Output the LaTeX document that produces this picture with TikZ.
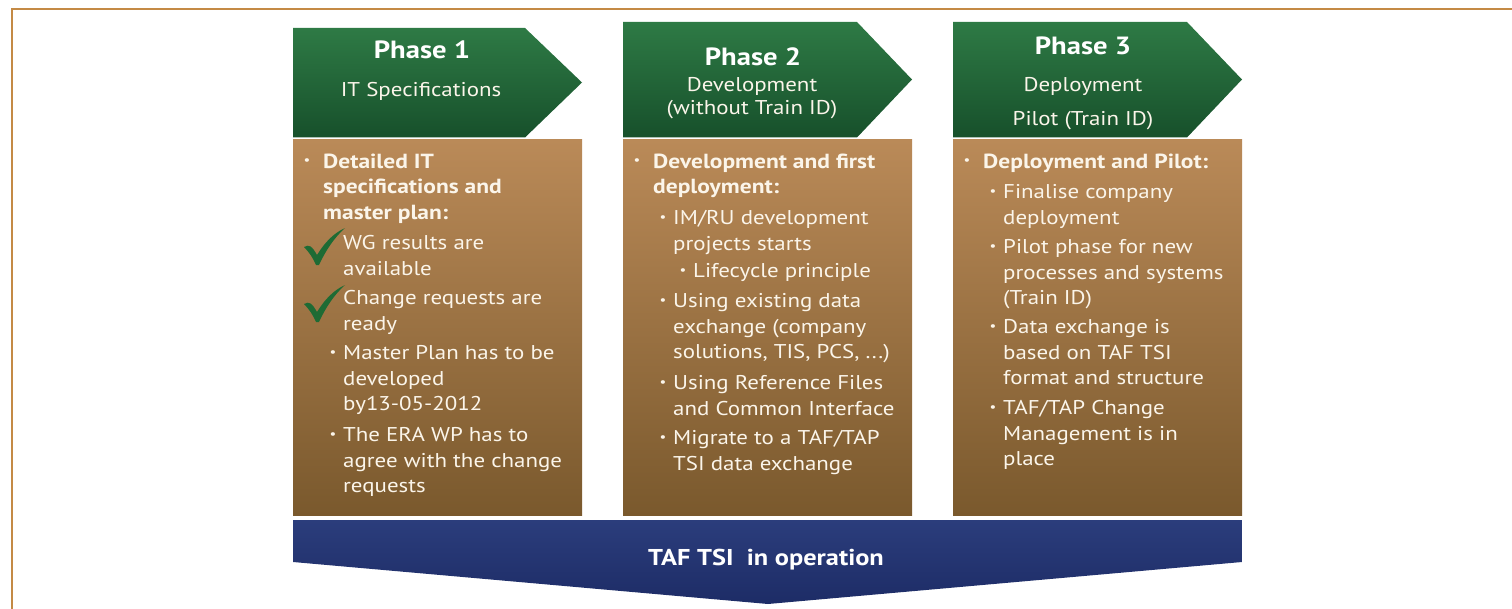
\documentclass[tikz,border=0pt]{standalone}
\usepackage{fontspec}
\setmainfont{PT Sans}[FakeStretch=1.15]
\usepackage{tikz}
\definecolor{PhFrame}{HTML}{C48A45}
\definecolor{PhGreenTop}{HTML}{2E7A45}
\definecolor{PhGreenBot}{HTML}{17502B}
\definecolor{PhBrownTop}{HTML}{BA8A58}
\definecolor{PhBrownBot}{HTML}{7A592D}
\definecolor{PhBlueTop}{HTML}{2B3D7C}
\definecolor{PhBlueBot}{HTML}{1D2C66}
\definecolor{PhTick}{HTML}{1E6B34}
\definecolor{PhText}{HTML}{FBF5EA}

\tikzset{
  head/.style={top color=PhGreenTop,bottom color=PhGreenBot},
  card/.style={top color=PhBrownTop,bottom color=PhBrownBot},
  band/.style={top color=PhBlueTop,bottom color=PhBlueBot},
  ttl/.style={inner sep=0pt,text=white,font=\fontsize{25}{30}\selectfont\bfseries},
  sub/.style={inner sep=0pt,text=PhText,font=\fontsize{20}{24}\selectfont},
  % given point = baseline of the first line
  itm/.style={anchor=north west,yshift=14.5bp,align=left,inner sep=0pt,text=PhText,
    font=\fontsize{20}{25.5}\selectfont},
  bitm/.style={itm,font=\fontsize{20.5}{25.5}\selectfont\bfseries},
  bul/.style={inner sep=0pt,text=PhText,font=\fontsize{13}{13}\selectfont},
}

\begin{document}
\begin{tikzpicture}[x=1bp,y=-1bp]
\path[use as bounding box] (0,0) rectangle (1512,609);
\draw[PhFrame,line width=2.5bp] (12,609) -- (12,9) -- (1512,9);
% phase headers
\path[head] (293,28) -- (525,28) -- (582,82.5) -- (525,137.5) -- (293,137.5) -- cycle;
\path[head] (623,22) -- (857,22) -- (912,79.5) -- (857,137.5) -- (623,137.5) -- cycle;
\path[head] (953,22) -- (1187,22) -- (1242,79.5) -- (1187,137.5) -- (953,137.5) -- cycle;
\node[ttl] (t1) at (422,50) {Phase 1};
\node[sub] (s1) at (421,91) {IT Specifications};
\node[ttl] (t2) at (753,57) {Phase 2};
\node[sub] (s2a) at (752,86) {Development};
\node[sub] (s2b) at (752,110) {(without Train ID)};
\node[ttl] (t3) at (1083,46) {Phase 3};
\node[sub] (s3a) at (1083,86) {Deployment};
\node[sub] (s3b) at (1083,121) {Pilot (Train ID)};
% cards
\path[card] (293,140) rectangle (582,515);
\path[card] (623,140) rectangle (912,515);
\path[card] (953,140) rectangle (1242,515);
\foreach \cy in {228,285}
  \fill[PhTick,shift={(0,\cy)}] (304,19) .. controls (309,16) and (312,18) .. (317,27)
    .. controls (325,14) and (334,5) .. (345,0) .. controls (334,10) and (326,22) .. (319,37)
    -- (316,37) .. controls (313,30) and (309,24) .. (304,19) -- cycle;
\foreach \bx/\by [count=\k] in {307/168,333/360,333/442,
    637/168,663/225,683/278,663/308,663/390,663/445,
    967/168,993/199,993/254,993/334,993/415}
  \node[bul] (b\k) at (\bx,\by-6) {•};
% phase 1
\node[bitm] (p1a) at (323,168) {Detailed IT\\specifications and\\master plan:};
\node[itm] (p1b) at (343,250) {WG results are\\available};
\node[itm] (p1c) at (343,305) {Change requests are\\ready};
\node[itm] (p1d) at (343,360) {Master Plan has to be\\developed\\by13-05-2012};
\node[itm] (p1e) at (343,442) {The ERA WP has to\\agree with the change\\requests};
% phase 2
\node[bitm] (p2a) at (653,168) {Development and first\\deployment:};
\node[itm] (p2b) at (673,225) {IM/RU development\\projects starts};
\node[itm] (p2c) at (693,278) {Lifecycle principle};
\node[itm] (p2d) at (673,308) {Using existing data\\exchange (company\\solutions, TIS, PCS, ...)};
\node[itm] (p2e) at (673,390) {Using Reference Files\\and Common Interface};
\node[itm] (p2f) at (673,445) {Migrate to a TAF/TAP\\TSI data exchange};
% phase 3
\node[bitm] (p3a) at (983,168) {Deployment and Pilot:};
\node[itm] (p3b) at (1003,199) {Finalise company\\deployment};
\node[itm] (p3c) at (1003,254) {Pilot phase for new\\processes and systems\\(Train ID)};
\node[itm] (p3d) at (1003,334) {Data exchange is\\based on TAF TSI\\format and structure};
\node[itm] (p3e) at (1003,415) {TAF/TAP Change\\Management is in\\place};
% operation band
\path[band] (293,520) -- (1242,520) -- (1242,562) -- (768,604) -- (293,562) -- cycle;
\node[inner sep=0pt,text=white,font=\fontsize{23}{28}\selectfont\bfseries] (op) at (766,560) {TAF TSI\ \ in operation};
\end{tikzpicture}
\end{document}
